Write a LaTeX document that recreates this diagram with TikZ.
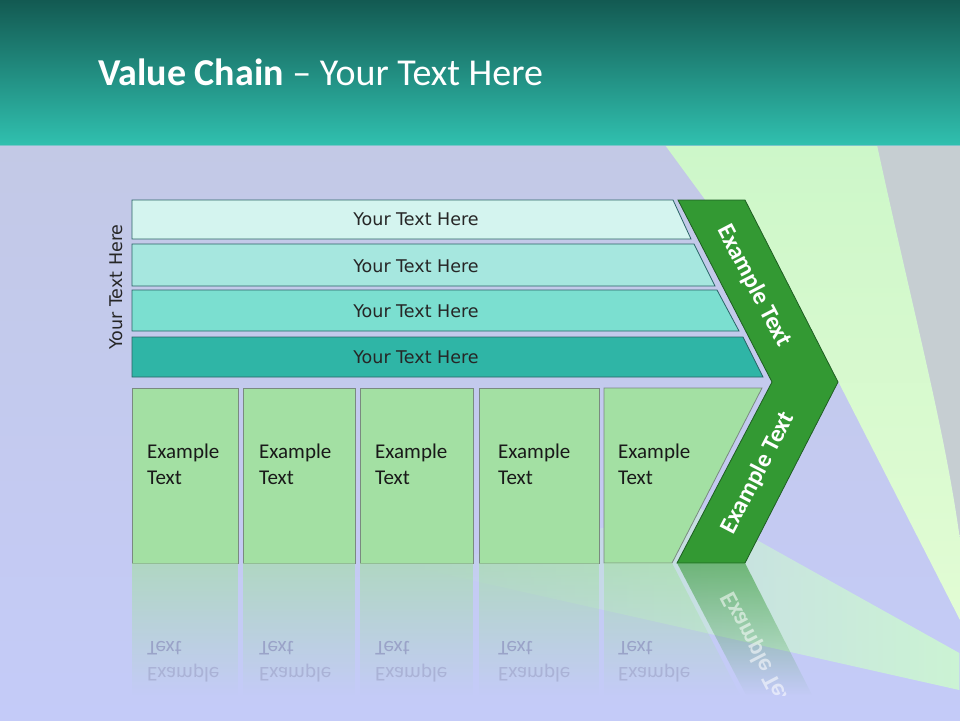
\documentclass[tikz,border=0pt]{standalone}
\usepackage{fontspec}
\setmainfont{Carlito}
\newfontfamily\verd{DejaVu Sans}
\usetikzlibrary{fadings}
\definecolor{hdtop}{HTML}{135A52}
\definecolor{hdbot}{HTML}{30C0AF}
\definecolor{bgtop}{HTML}{C3C9E6}
\definecolor{bgbot}{HTML}{C4CBF8}
\definecolor{beamtop}{HTML}{CDF7C9}
\definecolor{beambot}{HTML}{E2FCD4}
\definecolor{beamlow}{HTML}{CCF6D2}
\definecolor{grayreg}{HTML}{C6CED2}
\definecolor{barA}{HTML}{D4F4EF}
\definecolor{barB}{HTML}{A6E7DF}
\definecolor{barC}{HTML}{7BDFD0}
\definecolor{barD}{HTML}{2FB5A6}
\definecolor{barline}{HTML}{2A6466}
\definecolor{boxfill}{HTML}{A3E0A3}
\definecolor{boxline}{HTML}{7A8A80}
\definecolor{chev}{HTML}{339933}
\definecolor{chevline}{HTML}{1E5E22}
\definecolor{refltext}{HTML}{9AA3C8}
\definecolor{refltextb}{HTML}{AAB2D6}
\tikzfading[name=reflfade, top color=transparent!40, bottom color=transparent!100]
\tikzfading[name=beamfade, left color=transparent!100, middle color=transparent!70, right color=transparent!5]
\tikzset{
  barshape/.style={draw=barline, line width=0.8pt},
  bartext/.style={font=\verd\fontsize{17.5}{20}\selectfont, text=black!85, inner sep=0pt},
  boxshape/.style={draw=boxline, fill=boxfill, line width=0.8pt},
  boxtext/.style={font=\fontsize{21}{26}\selectfont, text=black!90, align=left, anchor=north west, inner sep=0pt},
  chevshape/.style={draw=chevline, fill=chev, line width=0.8pt},
  chevtext/.style={font=\bfseries\fontsize{24.5}{28}\selectfont, text=white, inner sep=0pt},
  reflbox/.style={fill=boxfill, path fading=reflfade},
}
\begin{document}
\begin{tikzpicture}[x=1pt,y=-1pt]
\useasboundingbox (0,0) rectangle (960,720);
% background
\shade[top color=bgtop, bottom color=bgbot] (0,145) rectangle (960,720);
\fill[grayreg] (877,145) -- (960,145) -- (960,540) .. controls (945,430) and (915,320) .. (877,145) -- cycle;
\shade[top color=beamtop, bottom color=beambot] (665,145) -- (877,145) .. controls (915,320) and (945,430) .. (960,540) -- (960,620) -- (838,381) -- cycle;
\fill[beamlow, path fading=beamfade] (413,567) -- (700,508) -- (960,653) -- (960,690) -- cycle;
% header
\shade[top color=hdtop, bottom color=hdbot] (0,0) rectangle (960,145);
\draw[color=hdbot!50!bgtop, line width=1pt] (0,145.5) -- (960,145.5);
\node[anchor=base west, inner sep=0pt, text=white, font=\fontsize{38}{40}\selectfont] (title) at (98,85) {\textbf{Value Chain} -- Your Text Here};
% bars
\draw[barshape, fill=barA] (132,200) -- (673,200) -- (691,239) -- (132,239) -- cycle;
\draw[barshape, fill=barB] (132,244) -- (694,244) -- (715,286) -- (132,286) -- cycle;
\draw[barshape, fill=barC] (132,290) -- (717,290) -- (739,331) -- (132,331) -- cycle;
\draw[barshape, fill=barD] (132,337) -- (743,337) -- (763,377) -- (132,377) -- cycle;
\node[bartext] (b1) at (416,219) {Your Text Here};
\node[bartext] (b2) at (416,266) {Your Text Here};
\node[bartext] (b3) at (416,311) {Your Text Here};
\node[bartext] (b4) at (416,357) {Your Text Here};
\node[bartext, rotate=90] (side) at (116,287) {Your Text Here};
% boxes
\draw[boxshape] (132,388) rectangle (238,563);
\draw[boxshape] (243,388) rectangle (355,563);
\draw[boxshape] (360,388) rectangle (473,563);
\draw[boxshape] (479,388) rectangle (599,563);
\draw[boxshape] (604,388) -- (762,388) -- (672,563) -- (604,563) -- cycle;
\node[boxtext] (e1) at (147,444) {Example\\Text};
\node[boxtext] (e2) at (259,444) {Example\\Text};
\node[boxtext] (e3) at (375,444) {Example\\Text};
\node[boxtext] (e4) at (498,444) {Example\\Text};
\node[boxtext] (e5) at (618,444) {Example\\Text};
% chevron
\draw[chevshape] (678,200) -- (745,200) -- (838,382) -- (745,563) -- (677,563) -- (772,382) -- cycle;
\node[chevtext, rotate=-62.5] (c1) at (754,286) {Example Text};
\node[chevtext, rotate=62.5] (c2) at (758,473) {Example Text};
% reflections
\fill[reflbox] (132,563) rectangle (238,695);
\fill[reflbox] (243,563) rectangle (355,695);
\fill[reflbox] (360,563) rectangle (473,695);
\fill[reflbox] (479,563) rectangle (599,695);
\fill[reflbox] (604,563) -- (672,563) -- (740,695) -- (604,695) -- cycle;
\fill[chev, path fading=reflfade] (677,563) -- (745,563) -- (812,695) -- (746,695) -- cycle;
\begin{scope}[shift={(0,1126)}, yscale=-1]
  \node[boxtext, transform shape, text=refltext] (r1) at (147,444) {\textcolor{refltextb}{Example}\\Text};
  \node[boxtext, transform shape, text=refltext] (r2) at (259,444) {\textcolor{refltextb}{Example}\\Text};
  \node[boxtext, transform shape, text=refltext] (r3) at (375,444) {\textcolor{refltextb}{Example}\\Text};
  \node[boxtext, transform shape, text=refltext] (r4) at (498,444) {\textcolor{refltextb}{Example}\\Text};
  \node[boxtext, transform shape, text=refltext] (r5) at (618,444) {\textcolor{refltextb}{Example}\\Text};
  \begin{scope}
    \clip (677,563) -- (745,563) -- (812,431) -- (746,431) -- cycle;
    \node[chevtext, rotate=62.5, transform shape, opacity=0.55] (rc) at (758,473) {Example Text};
  \end{scope}
\end{scope}
\end{tikzpicture}
\end{document}
